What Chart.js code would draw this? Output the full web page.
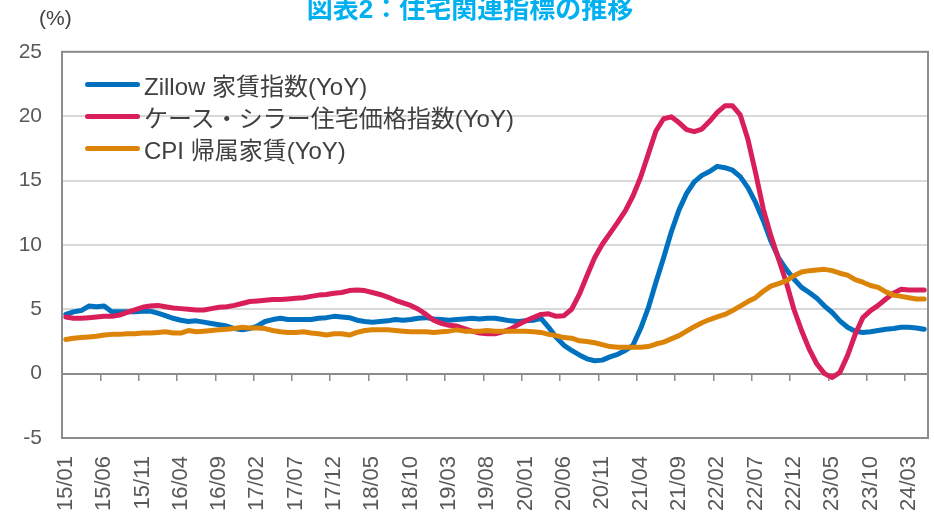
<!DOCTYPE html>
<html lang="ja">
<head>
<meta charset="utf-8">
<title>図表2：住宅関連指標の推移</title>
<script src="https://cdn.jsdelivr.net/npm/chart.js@4.4.1/dist/chart.umd.min.js"></script>
<style>
    body { margin: 0; background: #fff; }
    #wrap { position: relative; width: 934px; height: 516px; }
    #legend {
        position: absolute; left: 85px; top: 68px;
        font-family: 'Liberation Sans', 'Noto Sans CJK JP', sans-serif;
        font-size: 24px; color: #404040;
    }
    .legend-item { display: flex; align-items: center; height: 32px; white-space: nowrap; }
    .legend-line { width: 55px; height: 5px; border-radius: 3px; margin-right: 4px; }
</style>
</head>
<body>
<div id="wrap">
    <canvas id="chart" width="934" height="516"></canvas>
    <div id="legend"></div>
</div>
<script>
// months 15/01 .. 24/05
const startYear = 15, monthCount = 113;
const months = [];
for (let i = 0; i < monthCount; i++) {
    const y = startYear + Math.floor(i / 12);
    const m = (i % 12) + 1;
    months.push(y + '/' + String(m).padStart(2, '0'));
}

const seriesNames = ['Zillow 家賃指数(YoY)', 'ケース・シラー住宅価格指数(YoY)', 'CPI 帰属家賃(YoY)'];
const seriesColors = ['#0071BF', '#D81F5A', '#DC8408'];

// values (%)
const zillow = [
    4.6, 4.8, 4.9, 5.25, 5.2, 5.25, 4.8, 4.8, 4.8, 4.8, 4.85, 4.85,
    4.7, 4.5, 4.3, 4.15, 4.05, 4.1, 4.0, 3.9, 3.8, 3.7, 3.5, 3.4,
    3.5, 3.7, 4.05, 4.2, 4.3, 4.2, 4.2, 4.2, 4.2, 4.3, 4.35, 4.45,
    4.4, 4.35, 4.15, 4.05, 4.0, 4.05, 4.1, 4.2, 4.15, 4.2, 4.3, 4.35,
    4.25, 4.2, 4.15, 4.2, 4.25, 4.3, 4.25, 4.3, 4.3, 4.2, 4.1, 4.05,
    4.1, 4.15, 4.3, 3.6, 2.8, 2.2, 1.8, 1.45, 1.15, 1.0, 1.05, 1.3,
    1.5, 1.8, 2.2, 3.5, 5.1, 7.1, 9.0, 11.0, 12.7, 14.0, 14.9, 15.4,
    15.7, 16.1, 16.0, 15.8, 15.3, 14.45, 13.3, 11.9, 10.3, 9.0, 8.1, 7.35,
    6.7, 6.3, 5.85, 5.25, 4.75, 4.1, 3.6, 3.3, 3.2, 3.25, 3.35, 3.45,
    3.5, 3.6, 3.6, 3.55, 3.45
];
const caseShiller = [
    4.4, 4.3, 4.3, 4.35, 4.4, 4.45, 4.45, 4.55, 4.75, 4.95, 5.15, 5.25,
    5.3, 5.2, 5.1, 5.05, 5.0, 4.95, 4.95, 5.05, 5.15, 5.2, 5.3, 5.45,
    5.6, 5.65, 5.7, 5.75, 5.75, 5.8, 5.85, 5.9, 6.0, 6.1, 6.15, 6.25,
    6.3, 6.45, 6.5, 6.45, 6.3, 6.15, 5.95, 5.7, 5.5, 5.3, 5.0, 4.6,
    4.15, 3.9, 3.75, 3.7, 3.5, 3.3, 3.15, 3.1, 3.1, 3.25, 3.45, 3.8,
    4.1, 4.35, 4.6, 4.65, 4.45, 4.5, 5.0, 6.15, 7.6, 9.0, 10.05, 10.9,
    11.75, 12.65, 13.8, 15.25, 17.05, 18.85, 19.8, 19.95, 19.5, 18.95, 18.8, 19.0,
    19.6, 20.3, 20.8, 20.8, 20.1, 18.2, 15.6, 12.8, 10.7, 8.9, 7.1, 5.0,
    3.35, 1.9, 0.75, 0.0, -0.3, 0.1, 1.4, 3.05, 4.35, 4.9, 5.3, 5.8,
    6.25, 6.55, 6.5, 6.5, 6.5
];
const cpiOer = [
    2.65, 2.75, 2.8, 2.85, 2.9, 3.0, 3.05, 3.05, 3.1, 3.1, 3.15, 3.15,
    3.2, 3.25, 3.15, 3.15, 3.35, 3.25, 3.3, 3.35, 3.4, 3.45, 3.5, 3.6,
    3.55, 3.55, 3.5, 3.35, 3.25, 3.2, 3.2, 3.25, 3.15, 3.1, 3.0, 3.1,
    3.1, 3.0, 3.2, 3.35, 3.4, 3.4, 3.4, 3.35, 3.3, 3.25, 3.25, 3.25,
    3.2, 3.25, 3.3, 3.4, 3.3, 3.3, 3.3, 3.35, 3.3, 3.3, 3.3, 3.3,
    3.3, 3.25, 3.2, 3.05, 2.95, 2.8, 2.75, 2.55, 2.5, 2.4, 2.25, 2.1,
    2.05, 2.05, 2.05, 2.05, 2.1, 2.3, 2.45, 2.7, 2.95, 3.3, 3.65, 3.95,
    4.2, 4.4, 4.6, 4.9, 5.25, 5.6, 5.9, 6.4, 6.8, 7.0, 7.2, 7.6,
    7.9, 8.0, 8.05, 8.1, 8.0, 7.8, 7.65, 7.3, 7.1, 6.85, 6.7, 6.35,
    6.1, 6.0, 5.9, 5.8, 5.8
];

const yTicks = { min: -5, max: 25, step: 5 };
const labelEvery = 5;

const fontFamily = "'Liberation Sans', 'Noto Sans CJK JP', sans-serif";

// frame around the plot area and the (%) unit label
const framePlugin = {
    id: 'frame',
    beforeDatasetsDraw(chart) {
        const { ctx, chartArea: a } = chart;
        ctx.save();
        ctx.strokeStyle = '#8C8C8C';
        ctx.lineWidth = 2;
        ctx.strokeRect(a.left, a.top, a.right - a.left, a.bottom - a.top);
        ctx.restore();
    },
    afterDraw(chart) {
        const ctx = chart.ctx;
        ctx.save();
        ctx.fillStyle = '#404040';
        ctx.font = '21px ' + fontFamily;
        ctx.textBaseline = 'middle';
        ctx.fillText('(%)', 39, 19);
        ctx.restore();
    }
};

const makeDataset = (i, data, order) => ({
    label: seriesNames[i],
    data: data,
    borderColor: seriesColors[i],
    backgroundColor: seriesColors[i],
    borderWidth: 5,
    borderCapStyle: 'round',
    borderJoinStyle: 'round',
    pointRadius: 0,
    tension: 0,
    order: order
});

const chart = new Chart(document.getElementById('chart'), {
    type: 'line',
    data: {
        labels: months,
        datasets: [
            makeDataset(0, zillow, 3),
            makeDataset(1, caseShiller, 2),
            makeDataset(2, cpiOer, 1)
        ]
    },
    options: {
        responsive: false,
        animation: false,
        layout: { padding: { left: 12, right: 6, top: 0, bottom: 0 } },
        plugins: {
            legend: { display: false },
            tooltip: { enabled: false },
            title: {
                display: true,
                text: '図表2：住宅関連指標の推移',
                color: '#00B0F0',
                font: { family: fontFamily, size: 26, weight: 'bold', lineHeight: 0.8 },
                padding: { top: 0, bottom: 31 }
            }
        },
        scales: {
            x: {
                type: 'category',
                offset: true,
                grid: { display: false, drawTicks: false },
                border: { display: false },
                ticks: {
                    autoSkip: false,
                    minRotation: 90,
                    maxRotation: 90,
                    padding: 18,
                    color: '#595959',
                    font: { family: fontFamily, size: 22 },
                    callback: (val, index) => index % labelEvery === 0 ? months[index] : ''
                },
                afterFit: (scale) => {
                    scale.height = 78;
                    scale.paddingLeft = 0;
                    scale.paddingRight = 0;
                }
            },
            x2: {
                type: 'category',
                axis: 'x',
                position: { y: 0 },
                offset: true,
                grid: {
                    offset: true,
                    drawOnChartArea: false,
                    tickLength: 6,
                    lineWidth: 1.5,
                    color: (ctx) => ctx.index % labelEvery === 0 ? '#8C8C8C' : 'rgba(0,0,0,0)'
                },
                border: { color: '#8C8C8C', width: 2 },
                ticks: { display: false },
                afterFit: (scale) => {
                    scale.height = 0;
                    scale.paddingLeft = 0;
                    scale.paddingRight = 0;
                }
            },
            y: {
                min: yTicks.min,
                max: yTicks.max,
                grid: { color: '#D9D9D9', lineWidth: 2, drawTicks: false },
                border: { display: false },
                ticks: {
                    stepSize: yTicks.step,
                    padding: 20,
                    color: '#595959',
                    font: { family: fontFamily, size: 21 }
                },
                afterFit: (scale) => { scale.width = 50; }
            }
        }
    },
    plugins: [framePlugin]
});

// legend inside the plot, built from the datasets
const legendEl = document.getElementById('legend');
chart.data.datasets.forEach((ds) => {
    const item = document.createElement('div');
    item.className = 'legend-item';
    const line = document.createElement('span');
    line.className = 'legend-line';
    line.style.background = ds.borderColor;
    const text = document.createElement('span');
    text.textContent = ds.label;
    item.appendChild(line);
    item.appendChild(text);
    legendEl.appendChild(item);
});
</script>
</body>
</html>
